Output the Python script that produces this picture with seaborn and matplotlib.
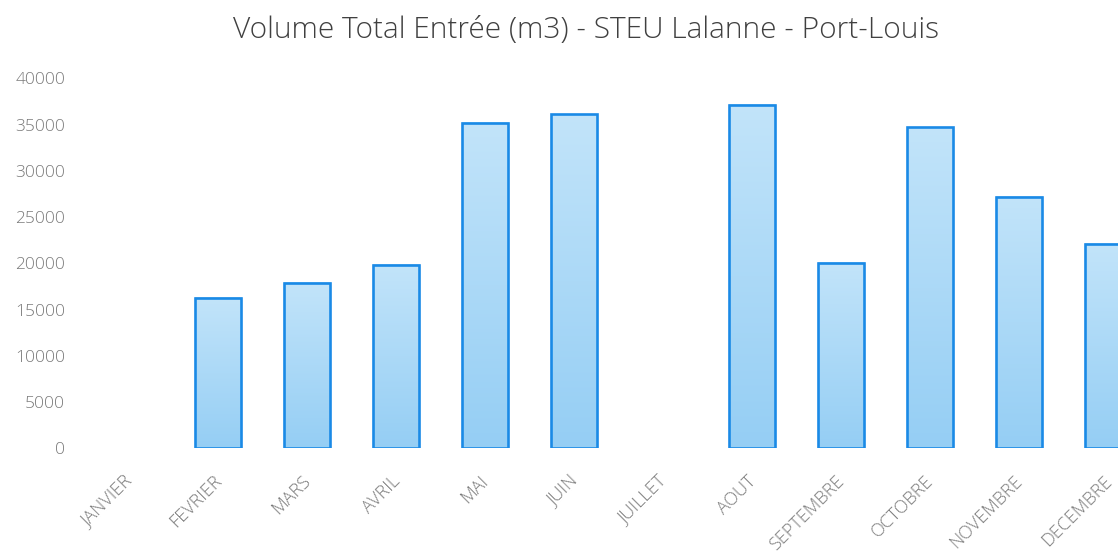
"""
Volume Total Entrée (m3) - STEU Lalanne - Port-Louis, monthly bar chart.
"""

import numpy as np
import pandas as pd
import matplotlib
matplotlib.use('Agg')
import matplotlib.pyplot as plt
from matplotlib.colors import LinearSegmentedColormap
from matplotlib.transforms import ScaledTranslation
import seaborn as sns

months = ['JANVIER', 'FEVRIER', 'MARS', 'AVRIL', 'MAI', 'JUIN',
          'JUILLET', 'AOUT', 'SEPTEMBRE', 'OCTOBRE', 'NOVEMBRE', 'DECEMBRE']
volumes = [np.nan, 16250, 17850, 19800, 35200, 36100,
           np.nan, 37100, 20000, 34700, 27200, 22100]
y_ticks = [0, 5000, 10000, 15000, 20000, 25000, 30000, 35000, 40000]
title = 'Volume Total Entrée (m3) - STEU Lalanne - Port-Louis'

sns.set_style('white')
plt.rcParams['font.family'] = ['Open Sans', 'DejaVu Sans']

df = pd.DataFrame({'mois': months, 'volume': volumes})

fig = plt.figure(figsize=(11.18, 5.56), dpi=100)
# axes runs past the right edge on purpose: the last bar is cut in the original
ax = fig.add_axes([0.0756, 0.1937, 0.9553, 0.6655])

sns.barplot(data=df, x='mois', y='volume', order=months, width=0.52,
            color='#b5dcf7', edgecolor='#1a8ae6', linewidth=1.9,
            saturation=1, ax=ax)

# vertical gradient fill inside each bar
grad_cmap = LinearSegmentedColormap.from_list('bar', ['#95cef4', '#c2e4fa'])
grad = np.linspace(0, 1, 256).reshape(-1, 1)
for p in ax.patches:
    h = p.get_height()
    if not np.isfinite(h) or h <= 0:
        continue
    x0 = p.get_x()
    w = p.get_width()
    ax.imshow(grad, extent=[x0, x0 + w, 0, h], origin='lower',
              aspect='auto', cmap=grad_cmap, zorder=p.get_zorder() - 0.1)
    p.set_facecolor('none')

ax.set_xlim(-0.5, 11.5)
ax.set_ylim(0, 40000)
ax.set_yticks(y_ticks)
ax.set_yticklabels([str(v) for v in y_ticks])
sns.despine(ax=ax, left=True, bottom=True)
ax.tick_params(axis='both', length=0, colors='#7a7a7a', labelsize=12.5)
ax.tick_params(axis='x', labelsize=13, pad=17)
ax.tick_params(axis='y', pad=14)
shift = ScaledTranslation(-4 / 72, 0, fig.dpi_scale_trans)
for lab in ax.get_xticklabels():
    lab.set_rotation(45)
    lab.set_ha('right')
    lab.set_rotation_mode('anchor')
    lab.set_fontweight('light')
    lab.set_transform(lab.get_transform() + shift)
for lab in ax.get_yticklabels():
    lab.set_fontweight('light')
ax.set_xlabel('')
ax.set_ylabel('')

fig.text(0.524, 0.931, title, ha='center', va='baseline',
         fontsize=21.5, color='#404040', fontweight='light')

fig.savefig('out.png', dpi=100)
plt.close(fig)
